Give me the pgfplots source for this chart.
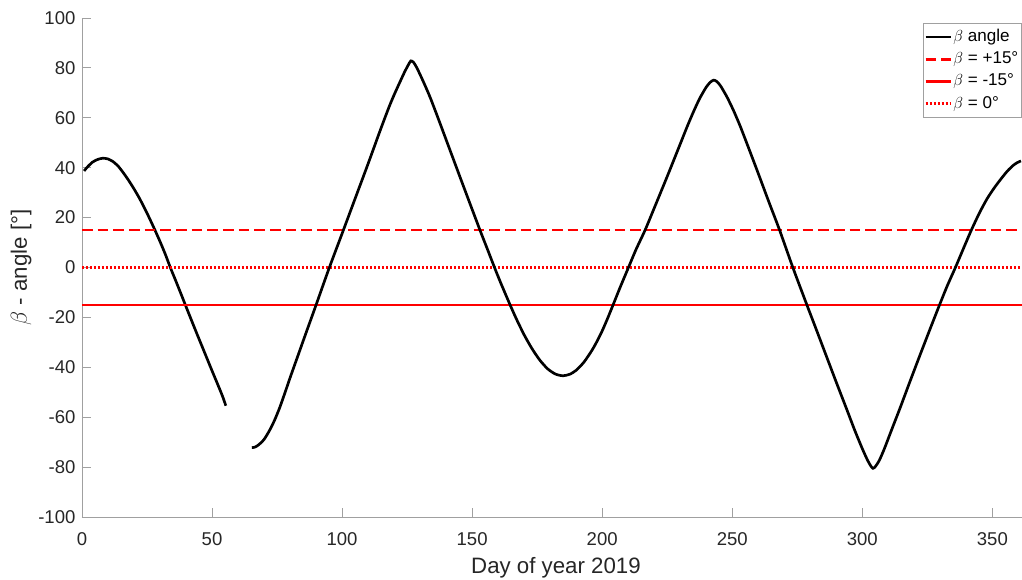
\documentclass[border=0pt]{standalone}
\usepackage{fontspec}
\setmainfont{Liberation Sans}
\usepackage{pgfplots}
\pgfplotsset{compat=1.18}
\definecolor{axgray}{RGB}{160,160,160}
\definecolor{txtgray}{RGB}{38,38,38}
\pgfplotstableread{
x y
0.8 38.7
2 40.2
4 42.2
6 43.3
8 43.8
10 43.5
12 42.4
14 40.5
16 37.8
18 34.8
20 31.5
22 27.9
24 23.9
26 19.6
28 15.1
30 10.4
32 5.4
34 -0.1
36 -5.2
38 -10.4
40 -15.7
42 -20.9
44 -26.1
46 -31.2
48 -36.3
50 -41.4
52 -46.4
54 -51.5
55.3 -55.4
}\segA
\pgfplotstableread{
x y
65.3 -72.2
66.5 -72.0
68 -71.0
70 -68.9
72 -65.5
74 -61.3
76 -56.2
78 -50.3
80 -44.2
83 -35.4
86 -26.6
90 -15.0
95 -0.3
100 13.6
105 27.6
110 41.6
114.6 54.8
118 64.2
120 69.2
122 73.8
124 78.3
125.3 80.9
126.4 82.8
127.4 82.3
128.5 80.5
130 77.3
132 72.7
134 67.8
137 59.6
140 51.2
145 37.2
150 23.3
153 15.0
156 7.0
158.6 0.0
161 -6.2
164.6 -15.0
167 -20.6
170 -27.0
173 -32.5
176 -37.1
179 -40.6
182 -42.7
184.9 -43.4
187.5 -42.8
190 -41.2
193 -37.9
196 -33.3
198 -29.6
200 -25.4
202 -20.6
204.1 -15.2
207 -7.7
210.1 0.0
213 7.2
216.5 15.0
220 23.8
225 36.5
230 49.5
232.6 56.3
235 62.2
237.5 67.8
240 72.3
241.5 74.2
242.8 75.1
244 74.6
245.5 72.8
248 68.3
250.5 62.9
253 56.8
256 48.7
260 37.7
264 26.5
268.2 15.0
273.3 0.0
278.7 -15.0
282 -24.0
286 -35.0
290 -46.0
294 -56.8
297 -65.0
300 -72.6
302 -77.2
303.3 -79.6
304.1 -80.5
305 -79.8
306.5 -77.4
308.5 -72.6
311 -65.8
314.6 -56.1
318 -46.6
322 -35.6
326 -24.8
329.5 -15.5
332.6 -7.5
335.8 0.0
338.8 7.4
341.8 14.7
345 21.8
348 27.6
351 32.3
354 36.4
356 38.9
358 40.9
359.5 42.0
361 42.7
}\segB
\begin{document}
\begin{tikzpicture}
\begin{axis}[
  scale only axis, width=705pt, height=374.25pt,
  xmin=0, xmax=361.4, ymin=-100, ymax=100,
  axis x line*=bottom, axis y line*=left,
  axis line style={-, draw=axgray, line width=0.6pt},
  tick align=inside, major tick length=6.75pt,
  tick style={draw=axgray, line width=0.6pt},
  xtick={0,50,100,150,200,250,300,350},
  ytick={-100,-80,-60,-40,-20,0,20,40,60,80,100},
  xticklabels={0,50,100,150,200,250,300,350},
  yticklabels={-100,-80,-60,-40,-20,0,20,40,60,80,100},
  ticklabel style={font=\fontsize{13.9}{16}\selectfont, text=txtgray},
  xticklabel style={anchor=base, yshift=-21pt},
  yticklabel style={anchor=east, xshift=-1.4pt},
  xlabel={Day of year 2019},
  ylabel={$\beta$ - angle [°]},
  label style={font=\fontsize{16.7}{19}\selectfont, text=txtgray},
  xlabel style={at={([yshift=-42.2pt,xshift=3pt]axis description cs:0.5,0)}, anchor=base},
  ylabel style={at={([xshift=-45.75pt]axis description cs:0,0.5)}, anchor=center},
  legend cell align=left,
  legend image code/.code={\draw[#1] (0pt,0pt) -- (18.75pt,0pt);},
  legend style={at={(rel axis cs:1,1)}, anchor=north east, xshift=-0.5pt, yshift=-3.75pt,
    draw=axgray, line width=0.5pt, fill=white,
    font=\fontsize{12.8}{15}\selectfont,
    inner xsep=1pt, inner ysep=2.5pt, row sep=1.2pt,
    nodes={inner xsep=1pt, inner ysep=1.5pt, text height=9.5pt, text depth=3pt}},
]
\addplot[black, line width=2pt, smooth, tension=0.4] table[x=x,y=y] {\segA};
\addlegendentry{$\beta$ angle}
\addplot[red, line width=2pt, dash pattern=on 8pt off 3.75pt] coordinates {(0,15) (361.4,15)};
\addlegendentry{$\beta$ = +15°}
\addplot[red, line width=2pt] coordinates {(0,-15) (361.4,-15)};
\addlegendentry{$\beta$ = -15°}
\addplot[red, line width=2pt, dash pattern=on 1.5pt off 1.5pt] coordinates {(0,0) (361.4,0)};
\addlegendentry{$\beta$ = 0°}
\addplot[black, line width=2pt, smooth, tension=0.4, forget plot] table[x=x,y=y] {\segB};
\end{axis}
\pgfresetboundingbox
\path[use as bounding box] (-61.5pt,-46.5pt) rectangle (705pt,387.75pt);
\end{tikzpicture}
\end{document}
